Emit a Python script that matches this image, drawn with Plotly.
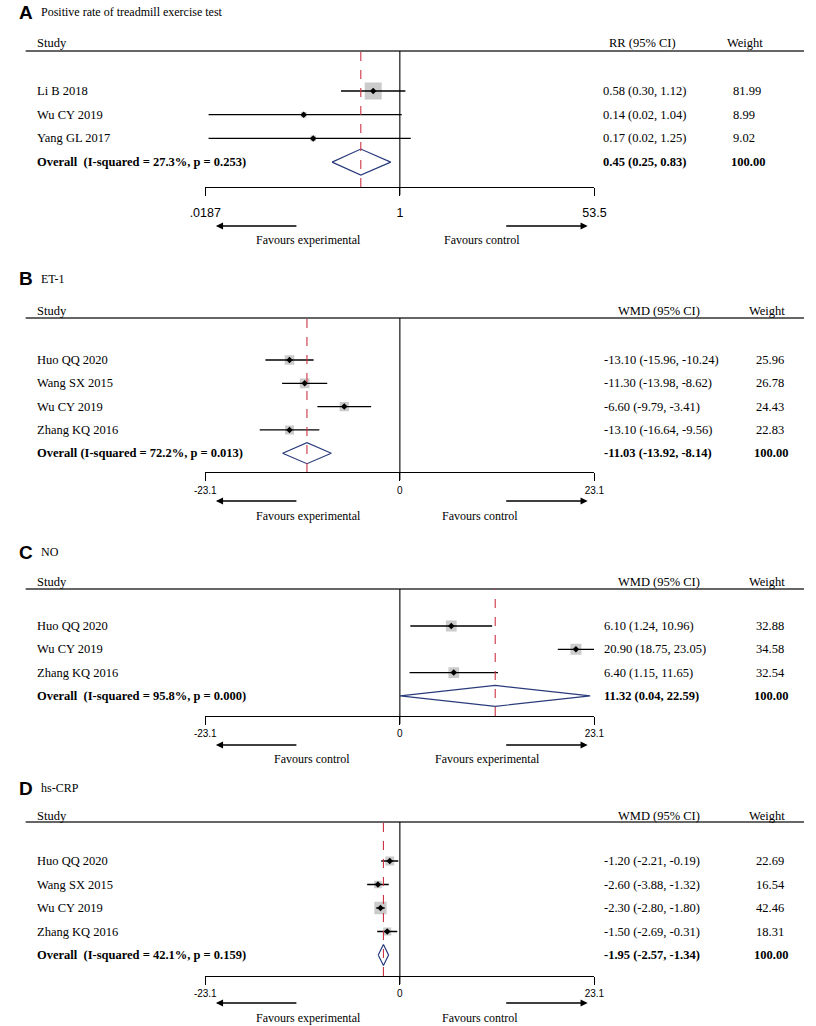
import math
import plotly.graph_objects as go

# ---- values ----
a_title = "Positive rate of treadmill exercise test"
a_studies = ["Li B 2018", "Wu CY 2019", "Yang GL 2017"]
a_est = [0.58, 0.14, 0.17]
a_low = [0.30, 0.02, 0.02]
a_high = [1.12, 1.04, 1.25]
a_weight = [81.99, 8.99, 9.02]
a_overall = [0.45, 0.25, 0.83]  # estimate, low, high
a_het = "Overall\u00a0 (I-squared = 27.3%, p = 0.253)"

b_title = "ET-1"
b_studies = ["Huo QQ 2020", "Wang SX 2015", "Wu CY 2019", "Zhang KQ 2016"]
b_est = [-13.10, -11.30, -6.60, -13.10]
b_low = [-15.96, -13.98, -9.79, -16.64]
b_high = [-10.24, -8.62, -3.41, -9.56]
b_weight = [25.96, 26.78, 24.43, 22.83]
b_overall = [-11.03, -13.92, -8.14]
b_het = "Overall (I-squared = 72.2%, p = 0.013)"

c_title = "NO"
c_studies = ["Huo QQ 2020", "Wu CY 2019", "Zhang KQ 2016"]
c_est = [6.10, 20.90, 6.40]
c_low = [1.24, 18.75, 1.15]
c_high = [10.96, 23.05, 11.65]
c_weight = [32.88, 34.58, 32.54]
c_overall = [11.32, 0.04, 22.59]
c_het = "Overall\u00a0 (I-squared = 95.8%, p = 0.000)"

d_title = "hs-CRP"
d_studies = ["Huo QQ 2020", "Wang SX 2015", "Wu CY 2019", "Zhang KQ 2016"]
d_est = [-1.20, -2.60, -2.30, -1.50]
d_low = [-2.21, -3.88, -2.80, -2.69]
d_high = [-0.19, -1.32, -1.80, -0.31]
d_weight = [22.69, 16.54, 42.46, 18.31]
d_overall = [-1.95, -2.57, -1.34]
d_het = "Overall\u00a0 (I-squared = 42.1%, p = 0.159)"

rr_ticks = [0.0187, 1, 53.5]
rr_ticktext = [".0187", "1", "53.5"]
wmd_ticks = [-23.1, 0, 23.1]
wmd_ticktext = ["-23.1", "0", "23.1"]

# ---- page geometry (pixels) ----
W, H = 816, 1026
SERIF = "Liberation Serif, Times New Roman, serif"
SANS = "Liberation Sans, Arial, sans-serif"
X_LEFT, X_RIGHT = 196, 599


def px(x):
    return x / W


def py(y):
    return 1 - y / H


panels = [
    dict(letter="A", title=a_title, studies=a_studies, est=a_est, low=a_low, high=a_high,
         weight=a_weight, overall=a_overall, het=a_het, measure="RR (95% CI)", log=True,
         ticks=rr_ticks, ticktext=rr_ticktext, null=1,
         favours=("Favours experimental", "Favours control"),
         top=51, axis=187, row0=91, step=23.7, label_y=12, head_y=43,
         tick_size=12.5, standoff=6, arrow_y=226, fav_y=240, fav_x=(303, 483), dia=0.55,
         ci_x=607, ci_head_x=613, w_x=741, w_head_x=735),
    dict(letter="B", title=b_title, studies=b_studies, est=b_est, low=b_low, high=b_high,
         weight=b_weight, overall=b_overall, het=b_het, measure="WMD (95% CI)", log=False,
         ticks=wmd_ticks, ticktext=wmd_ticktext, null=0,
         favours=("Favours experimental", "Favours control"),
         top=318, axis=472, row0=360, step=23.3, label_y=279, head_y=311,
         tick_size=10, standoff=1, arrow_y=501, fav_y=516, fav_x=(303, 480), dia=0.45,
         ci_x=608, ci_head_x=622, w_x=765, w_head_x=758),
    dict(letter="C", title=c_title, studies=c_studies, est=c_est, low=c_low, high=c_high,
         weight=c_weight, overall=c_overall, het=c_het, measure="WMD (95% CI)", log=False,
         ticks=wmd_ticks, ticktext=wmd_ticktext, null=0,
         favours=("Favours control", "Favours experimental"),
         top=589, axis=716, row0=626, step=23.3, label_y=552, head_y=582,
         tick_size=10, standoff=0, arrow_y=745, fav_y=759, fav_x=(307, 488), dia=0.45,
         ci_x=608, ci_head_x=622, w_x=765, w_head_x=758),
    dict(letter="D", title=d_title, studies=d_studies, est=d_est, low=d_low, high=d_high,
         weight=d_weight, overall=d_overall, het=d_het, measure="WMD (95% CI)", log=False,
         ticks=wmd_ticks, ticktext=wmd_ticktext, null=0,
         favours=("Favours experimental", "Favours control"),
         top=822, axis=976, row0=861, step=23.5, label_y=788, head_y=816,
         tick_size=10, standoff=0, arrow_y=1003, fav_y=1018, fav_x=(303, 480), dia=0.45,
         ci_x=608, ci_head_x=622, w_x=765, w_head_x=758),
]

fig = go.Figure()
shapes = []
annotations = []
layout_axes = {}


def txt(text, x, y, yref="paper", size=12.5, bold=False, anchor="left", family=SERIF):
    if bold:
        text = "<b>" + text + "</b>"
    annotations.append(dict(text=text, x=x, y=y, xref="paper", yref=yref, showarrow=False,
                            xanchor=anchor, yanchor="middle", align=anchor, borderpad=0,
                            font=dict(family=family, size=size, color="black")))


for k, p in enumerate(panels, start=1):
    sfx = "" if k == 1 else str(k)
    xa, ya = "x" + sfx, "y" + sfx
    n = len(p["studies"])
    rows = list(range(1, n + 1))
    orow = n + 1

    # y range: row index, reversed so that row 1 is on top
    y_bottom = (p["axis"] - p["row0"]) / p["step"] + 1
    y_top = (p["top"] - p["row0"]) / p["step"] + 1

    # ratio panel is drawn on a log scale (axis in log10 units)
    tr = (lambda v: math.log10(v)) if p["log"] else (lambda v: v)
    est = [tr(v) for v in p["est"]]
    low = [tr(v) for v in p["low"]]
    high = [tr(v) for v in p["high"]]
    oe, ol, oh = [tr(v) for v in p["overall"]]
    ticks = [tr(v) for v in p["ticks"]]

    layout_axes["xaxis" + sfx] = dict(
        domain=[px(X_LEFT), px(X_RIGHT)], range=[ticks[0], ticks[-1]],
        anchor=ya, showgrid=False, zeroline=False, showline=True, linecolor="black",
        linewidth=1.2, ticks="outside", ticklen=8, tickwidth=1.2, tickcolor="black",
        tickvals=ticks, ticktext=p["ticktext"], ticklabelstandoff=p["standoff"],
        tickfont=dict(family=SANS, size=p["tick_size"], color="black"), fixedrange=True)
    layout_axes["yaxis" + sfx] = dict(
        domain=[py(p["axis"]), py(p["top"])], range=[y_bottom, y_top], anchor=xa,
        visible=False, fixedrange=True)

    # weight boxes
    fig.add_trace(go.Scatter(
        x=est, y=rows, xaxis=xa, yaxis=ya, mode="markers", hoverinfo="skip",
        marker=dict(symbol="square", size=[1.88 * math.sqrt(w) for w in p["weight"]],
                    color="#b5b5b5", line=dict(width=0))))
    # confidence intervals
    cx, cy = [], []
    for lo, hi, r in zip(low, high, rows):
        cx += [lo, hi, None]
        cy += [r, r, None]
    fig.add_trace(go.Scatter(x=cx, y=cy, xaxis=xa, yaxis=ya, mode="lines", hoverinfo="skip",
                             line=dict(color="black", width=1.3)))
    # point estimates
    fig.add_trace(go.Scatter(
        x=est, y=rows, xaxis=xa, yaxis=ya, mode="markers", hoverinfo="skip",
        marker=dict(symbol="diamond", size=5, color="black")))
    # pooled diamond
    h = p["dia"]
    fig.add_trace(go.Scatter(
        x=[ol, oe, oh, oe, ol], y=[orow, orow - h, orow, orow + h, orow], xaxis=xa, yaxis=ya,
        mode="lines", line=dict(color="#2a3b7c", width=1.2), hoverinfo="skip"))

    # header rule, null line, pooled dashed line
    shapes.append(dict(type="line", xref="paper", yref="paper", x0=px(10), x1=1,
                       y0=py(p["top"]), y1=py(p["top"]), line=dict(color="#333333", width=1.5)))
    shapes.append(dict(type="line", xref=xa, yref="paper", x0=tr(p["null"]), x1=tr(p["null"]),
                       y0=py(p["axis"] + 8), y1=py(p["top"]), line=dict(color="black", width=1.1)))
    shapes.append(dict(type="line", xref=xa, yref="paper", x0=oe, x1=oe,
                       y0=py(p["axis"]), y1=py(p["top"]),
                       line=dict(color="#cc3344", width=1.1, dash="dash")))

    # panel letter and title
    txt(p["letter"], px(2), py(p["label_y"]), size=19, bold=True, family=SANS)
    txt(p["title"], px(25), py(p["label_y"]), size=12)
    # column headers
    txt("Study", px(21), py(p["head_y"]))
    txt(p["measure"], px(p["ci_head_x"]), py(p["head_y"]))
    txt("Weight", px(p["w_head_x"]), py(p["head_y"]))
    # study rows
    for name, e, lo, hi, w, r in zip(p["studies"], p["est"], p["low"], p["high"], p["weight"], rows):
        txt(name, px(21), r, yref=ya)
        txt("%.2f (%.2f, %.2f)" % (e, lo, hi), px(p["ci_x"]), r, yref=ya)
        txt("%.2f" % w, px(p["w_x"]), r, yref=ya)
    txt(p["het"], px(21), orow, yref=ya, bold=True)
    txt("%.2f (%.2f, %.2f)" % tuple(p["overall"]), px(p["ci_x"]), orow, yref=ya, bold=True)
    txt("%.2f" % sum(p["weight"]), px(p["w_x"] - 2), orow, yref=ya, bold=True)

    # favours arrows and captions
    for head, tail in ((207, 289), (592, 509)):
        annotations.append(dict(text="", xref="paper", yref="paper", axref="pixel", ayref="pixel",
                                x=px(head), y=py(p["arrow_y"]), ax=tail - head, ay=0,
                                showarrow=True, arrowhead=2, arrowsize=1.1, arrowwidth=1.3,
                                arrowcolor="black"))
    txt(p["favours"][0], px(p["fav_x"][0]), py(p["fav_y"]), anchor="center", size=12)
    txt(p["favours"][1], px(p["fav_x"][1]), py(p["fav_y"]), anchor="center", size=12)

fig.update_layout(
    width=W, height=H, margin=dict(l=0, r=0, t=0, b=0),
    paper_bgcolor="white", plot_bgcolor="white", showlegend=False,
    shapes=shapes, annotations=annotations, **layout_axes)

fig.write_html("out.html", config={"displayModeBar": False},
               post_script="document.body.style.margin='0';")
